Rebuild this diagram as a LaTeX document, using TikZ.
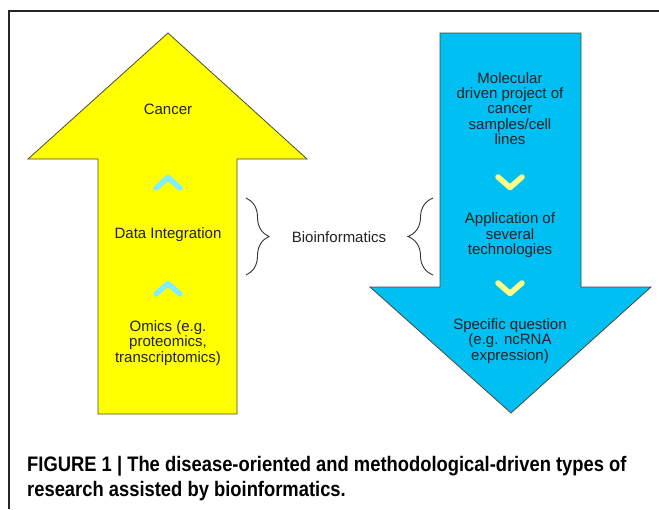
\documentclass[tikz,border=0pt]{standalone}
\usepackage{fontspec}
\usepackage{graphicx}
\setmainfont{Liberation Sans}
\usetikzlibrary{decorations.pathreplacing}
\definecolor{arrowyellow}{HTML}{FFFF00}
\definecolor{arrowblue}{HTML}{00BFF2}
\definecolor{chevcyan}{HTML}{80EEFF}
\definecolor{chevyellow}{HTML}{FFFF88}
\definecolor{outline}{HTML}{4A4A3A}
\definecolor{txt}{HTML}{222222}
\begin{document}
\begin{tikzpicture}[x=1pt,y=-1pt,
  bigarrow/.style={draw=outline, line width=0.8pt, line join=miter},
  label/.style={inner sep=0pt, align=center, text=txt,
    font=\fontsize{15}{15.4}\selectfont},
  chevron/.style={line width=5.5pt, line cap=round, line join=round},
  bracestyle/.style={draw=black!80, line width=0.9pt, decorate},
  caption/.style={inner sep=0pt, anchor=base west, text=black,
    font=\fontsize{21}{25}\selectfont\bfseries}]
\useasboundingbox (0,0) rectangle (659,509);
\fill[white] (0,0) rectangle (659,509);
% frame
\draw[line width=1.5pt, black!85] (9,509) -- (9,11) -- (659,11);
% yellow up arrow
\draw[bigarrow, fill=arrowyellow] (168,33) -- (307,159) -- (237,159) -- (237,414)
  -- (98,414) -- (98,159) -- (28,159) -- cycle;
% blue down arrow
\draw[bigarrow, fill=arrowblue] (440,33) -- (581,33) -- (581,287) -- (651,287)
  -- (511,413) -- (370,287) -- (440,287) -- cycle;
% texts left
\node[label] (cancer) at (168,109) {Cancer};
\node[label] (dataint) at (168,235) {Data Integration};
\node[label] (omics) at (168,343) {Omics (e.g.\\proteomics,\\transcriptomics)};
% chevrons left
\draw[chevron, chevcyan] (156,188) -- (168,177.5) -- (180,188);
\draw[chevron, chevcyan] (156,294) -- (168,283.5) -- (180,294);
% texts right
\node[label] (molec) at (510,108.5) {Molecular\\driven project of\\cancer\\samples/cell\\lines};
\node[label] (appl) at (510,235.5) {Application of\\several\\technologies};
\node[label] (spec) at (510,341) {Specific question\\(e.g. ncRNA\\expression)};
% chevrons right
\draw[chevron, chevyellow] (498,177) -- (510,187.5) -- (522,177);
\draw[chevron, chevyellow] (498,283) -- (510,293.5) -- (522,283);
% bioinformatics and braces
\node[label] (bio) at (339,237) {Bioinformatics};
\coordinate (rbtop) at (246,198);
\coordinate (rbbot) at (246,275);
\coordinate (lbtop) at (433,198);
\coordinate (lbbot) at (433,275);
\draw[bracestyle, decoration={brace, amplitude=23pt, aspect=0.5}] (rbtop) -- (rbbot);
\draw[bracestyle, decoration={brace, amplitude=25pt, aspect=0.5}] (lbbot) -- (lbtop);
% caption
\node[caption] (cap1) at (27,471) {\scalebox{0.875}[1]{FIGURE 1 | The disease-oriented and methodological-driven types of}};
\node[caption] (cap2) at (27,496) {\scalebox{0.875}[1]{research assisted by bioinformatics.}};
\end{tikzpicture}
\end{document}
